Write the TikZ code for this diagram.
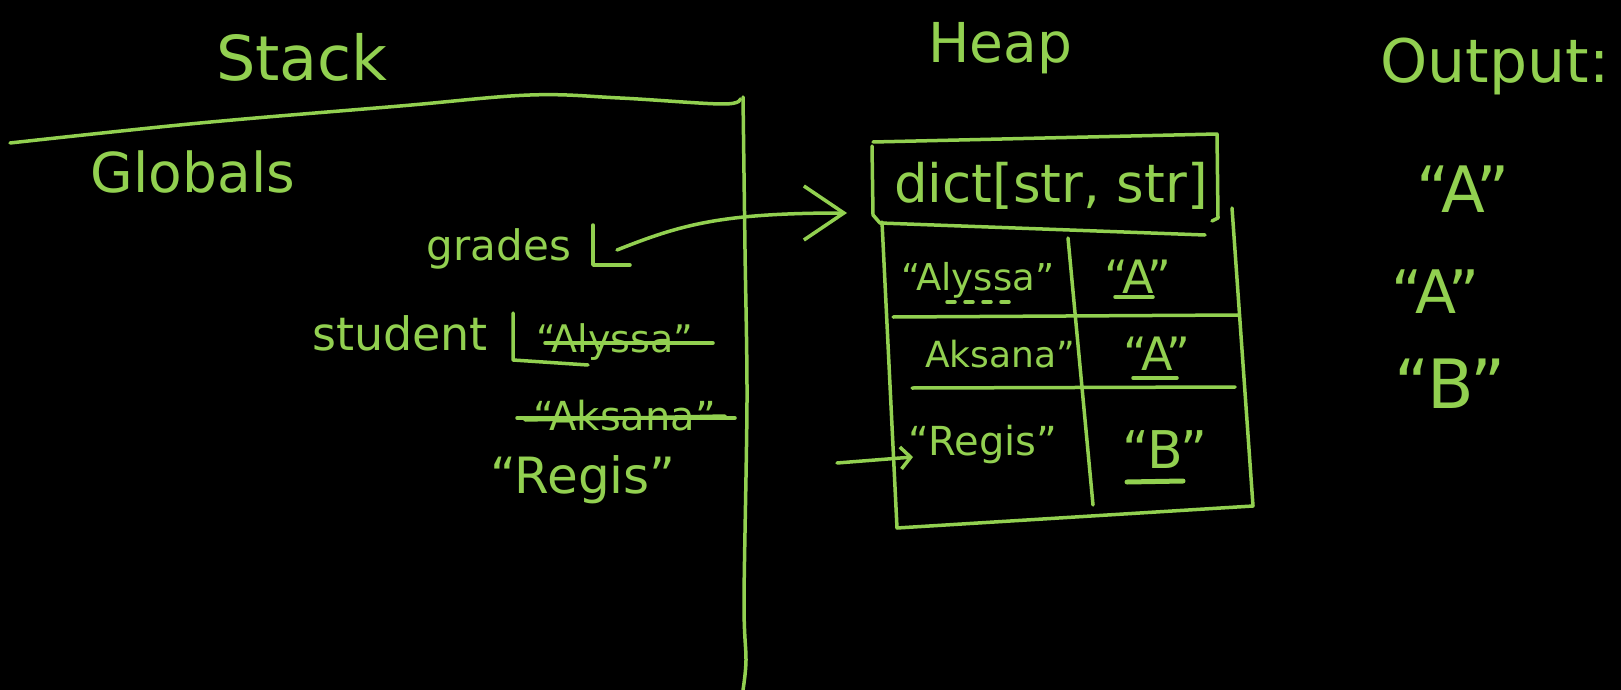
\documentclass[tikz,border=0pt]{standalone}
\usepackage{fontspec}
\setmainfont{DejaVu Sans}
\usetikzlibrary{arrows.meta}
\definecolor{chalk}{RGB}{146,208,80}
\tikzset{
  ink/.style={draw=chalk, line width=3.5pt, line cap=round, line join=round},
  txt/.style={text=chalk, inner sep=0pt, anchor=base},
  bigbarb/.style={-{Straight Barb[length=40pt,width=54pt,line width=3.5pt]}},
  smallbarb/.style={-{Straight Barb[length=10pt,width=22pt,line width=3.5pt]}},
}
\begin{document}
\begin{tikzpicture}[x=1pt,y=-1pt]
\fill[black] (0,0) rectangle (1621,690);
\useasboundingbox (0,0) rectangle (1621,690);

% headings
\node[txt, font=\fontsize{62}{62}\selectfont] (stack) at (302,81) {Stack};
\node[txt, font=\fontsize{55}{55}\selectfont] (heap) at (1000,63) {Heap};
\node[txt, font=\fontsize{60}{60}\selectfont] (output) at (1495,83) {Output:};
\node[txt, font=\fontsize{55}{55}\selectfont] (globals) at (193,192) {Globals};

% stack frame lines
\draw[ink] plot[smooth, tension=0.6] coordinates {(10,143) (200,123) (400,106) (530,95) (620,98) (722,104) (740,99)};
\draw[ink] plot[smooth, tension=0.5] coordinates {(743,97) (745,250) (747,400) (744,600) (746,660) (743,690)};

% stack variables
\node[txt, font=\fontsize{42}{42}\selectfont] (grades) at (499,260) {grades};
\coordinate (gradsL) at (617,250);
\draw[ink] (593,225) -- (593,265) -- (630,265);

\node[txt, font=\fontsize{46}{46}\selectfont] (student) at (400,350) {student};
\draw[ink] (513,313) -- (513,360) -- (588,365);
\node[txt, font=\fontsize{38}{38}\selectfont] (alyssaS) at (615,352) {“Alyssa”};
\draw[ink] ([xshift=-70pt,yshift=9pt]alyssaS.base) -- ([xshift=98pt,yshift=9pt]alyssaS.base);
\node[txt, font=\fontsize{40}{40}\selectfont] (aksanaS) at (625,430) {“Aksana”};
\draw[ink] ([xshift=-108pt,yshift=12pt]aksanaS.base) -- ([xshift=110pt,yshift=12pt]aksanaS.base);
\draw[ink] ([xshift=-100pt,yshift=10pt]aksanaS.base) -- ([xshift=100pt,yshift=14pt]aksanaS.base);
\node[txt, font=\fontsize{50}{50}\selectfont] (regisS) at (583,493) {“Regis”};

% heap table
\node[txt, font=\fontsize{53}{53}\selectfont] (dict) at (1051,202) {dict[str, str]};
\draw[ink] (873,142) -- (1217,134) -- (1218,218) -- (1212,221);
\draw[ink] (872,146) -- (873,215) -- (880,223) -- (1205,235);
\draw[ink] (882,222) -- (897,528) -- (1253,506) -- (1232,208);
\draw[ink] (1068,238) -- (1093,505);
\draw[ink] (893,317) -- (1238,315);
\draw[ink] (912,388) -- (1235,387);

\node[txt, font=\fontsize{37}{37}\selectfont] (alyssaC) at (978,290) {“Alyssa”};
\draw[ink, dash pattern=on 8pt off 10pt] (947,302) -- (1017,302);
\node[txt, font=\fontsize{46}{46}\selectfont] (a1) at (1138,293) {“A”};
\draw[ink] (1115,297) -- (1153,297);
\node[txt, font=\fontsize{36}{36}\selectfont] (aksanaC) at (1000,367) {Aksana”};
\node[txt, font=\fontsize{46}{46}\selectfont] (a2) at (1157,370) {“A”};
\draw[ink] (1133,378) -- (1177,378);
\node[txt, font=\fontsize{40}{40}\selectfont] (regisC) at (983,455) {“Regis”};
\node[txt, font=\fontsize{52}{52}\selectfont] (b) at (1165,468) {“B”};
\draw[ink, line width=5pt] (1127,482) -- (1183,481);

% arrows
\coordinate (dictW) at (847,213);
\draw[ink, bigbarb] (gradsL) .. controls (680,225) and (720,213) .. (dictW);
\coordinate (regisArrowStart) at (837,463);
\coordinate (regisArrowEnd) at (913,457);
\draw[ink, smallbarb] (regisArrowStart) -- (regisArrowEnd);

% output
\node[txt, font=\fontsize{64}{64}\selectfont] (out1) at (1463,212) {“A”};
\node[txt, font=\fontsize{60}{60}\selectfont] (out2) at (1436,313) {“A”};
\node[txt, font=\fontsize{68}{68}\selectfont] (out3) at (1450,408) {“B”};
\end{tikzpicture}
\end{document}
